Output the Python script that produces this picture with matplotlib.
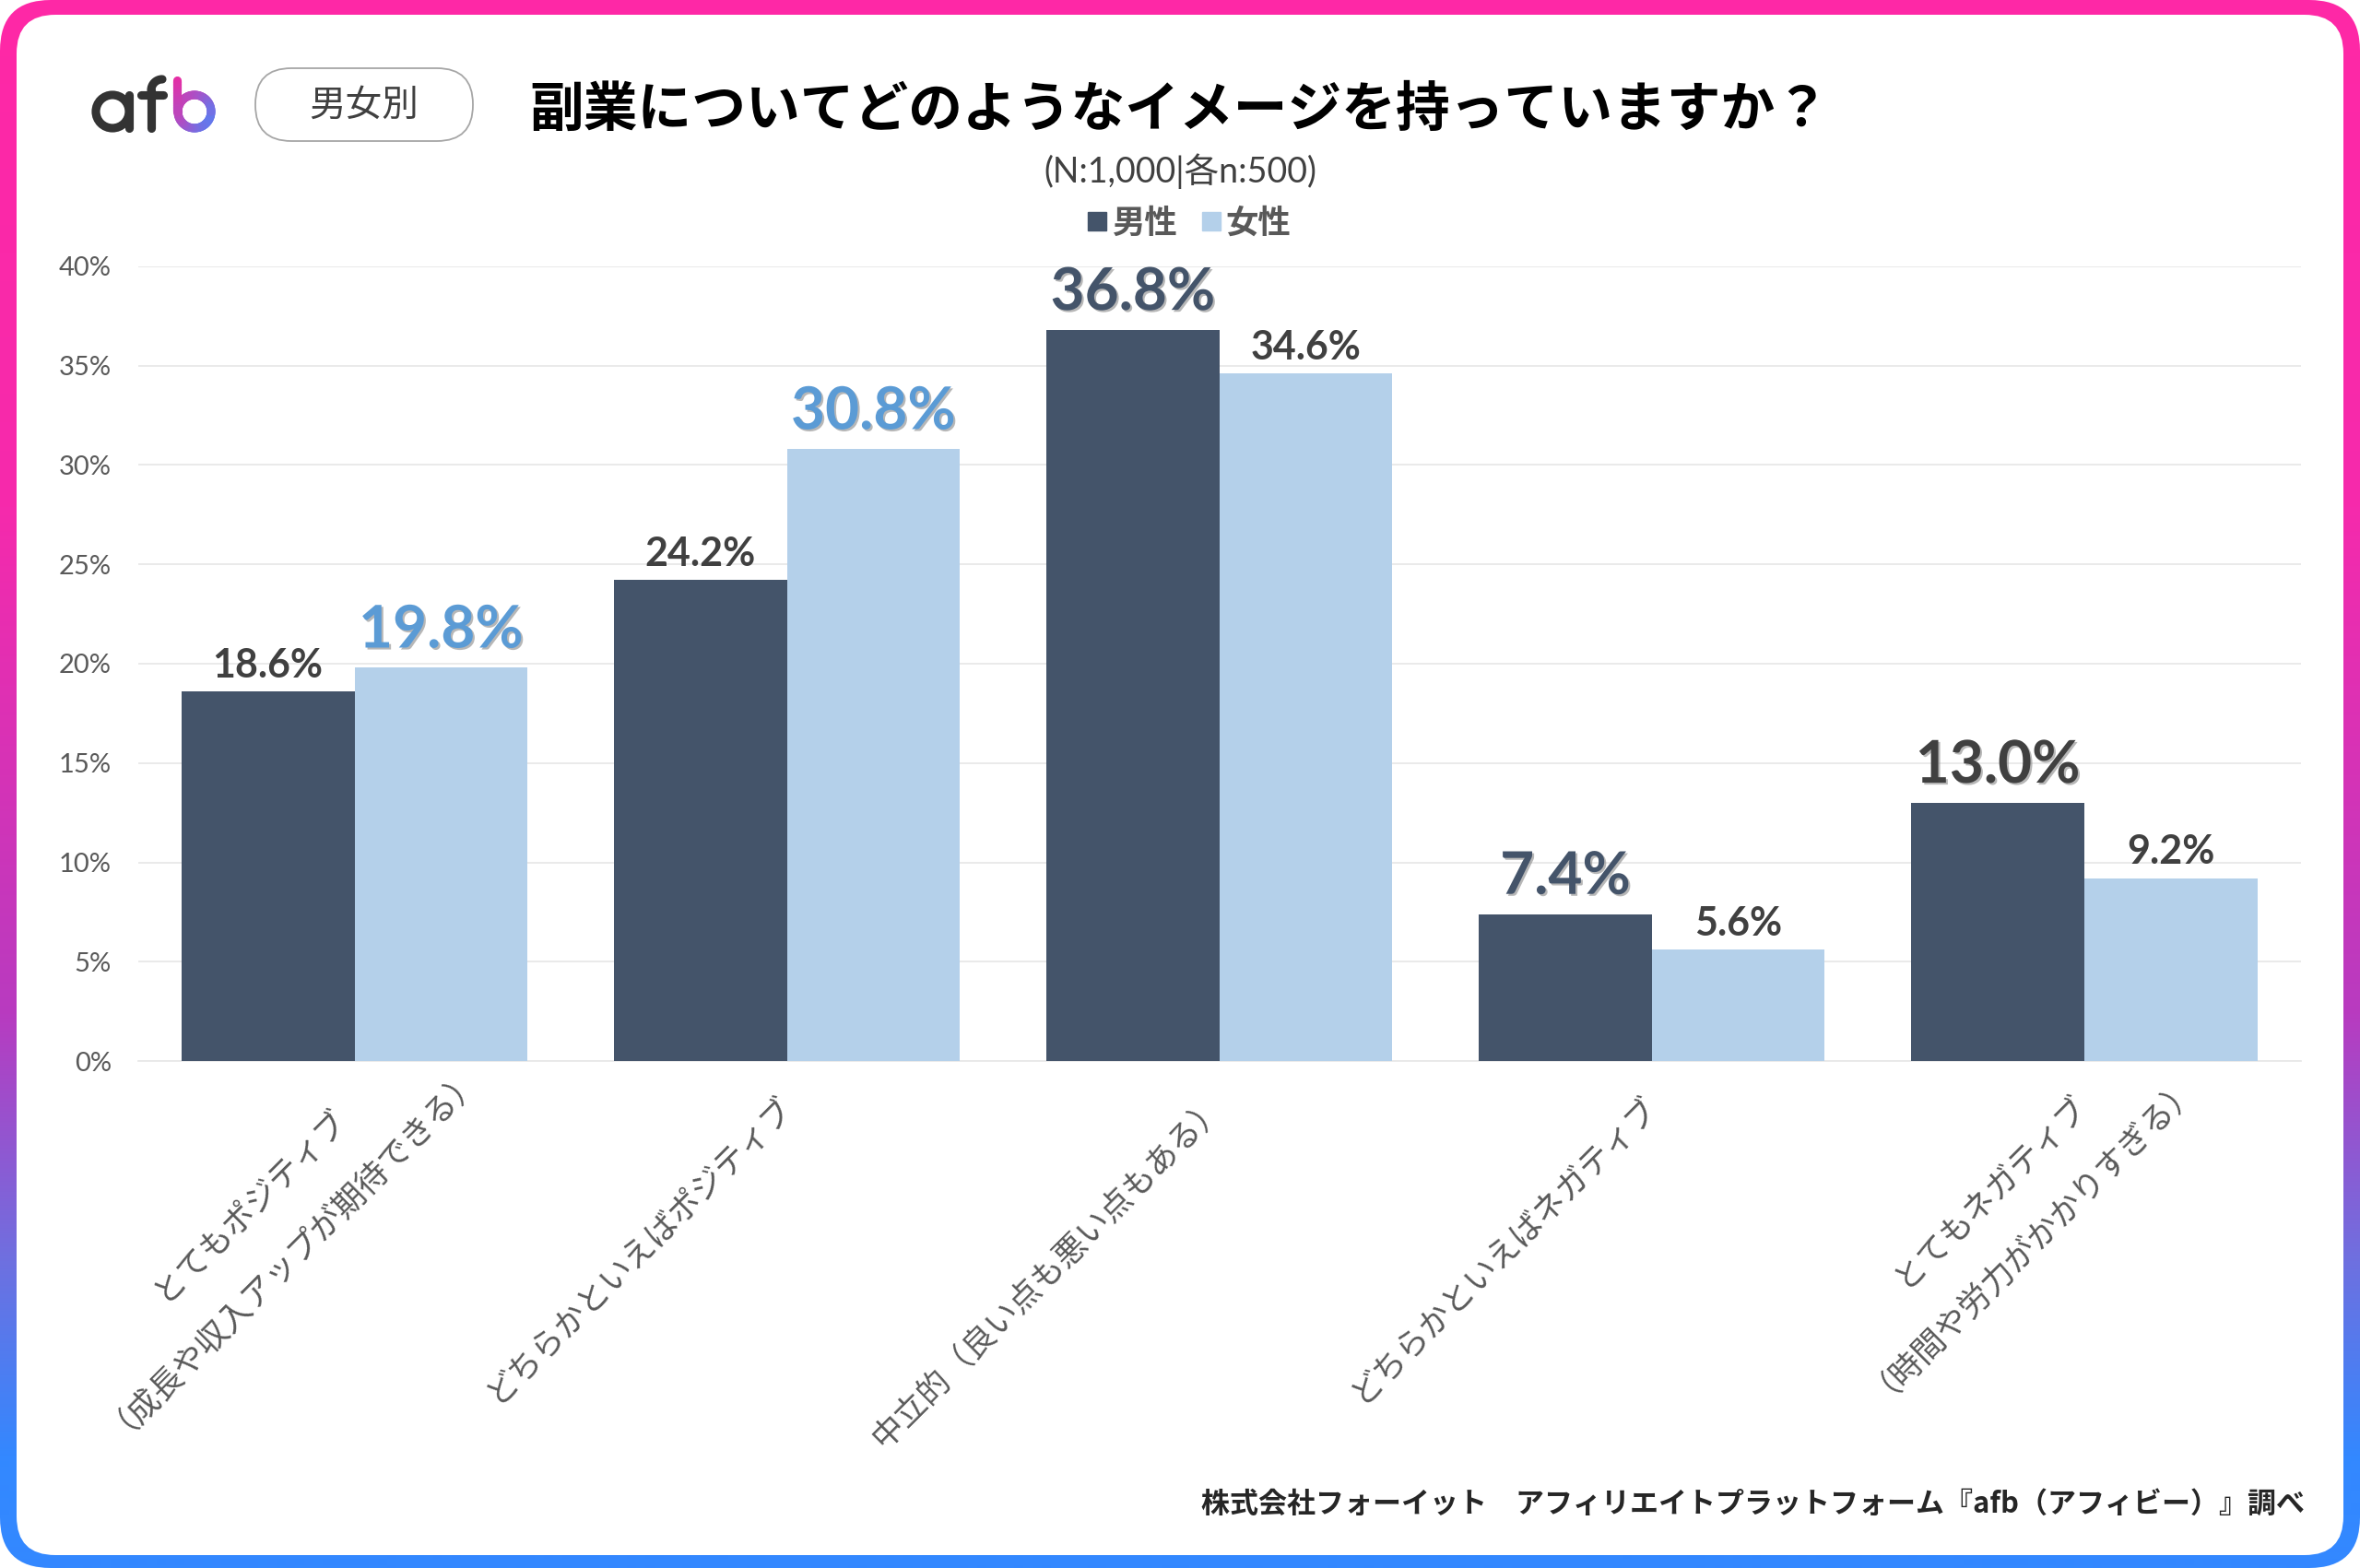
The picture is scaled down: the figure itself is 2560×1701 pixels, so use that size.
import numpy as np
import matplotlib
matplotlib.use('Agg')
import matplotlib.pyplot as plt
from matplotlib.patches import FancyBboxPatch, Circle
from matplotlib.collections import LineCollection
from matplotlib.colors import LinearSegmentedColormap, to_rgb
from matplotlib.lines import Line2D
from matplotlib.transforms import ScaledTranslation
import matplotlib.patheffects as pe

categories = ['とてもポジティブ\n（成長や収入アップが期待できる）', 'どちらかといえばポジティブ',
              '中立的（良い点も悪い点もある）', 'どちらかといえばネガティブ',
              'とてもネガティブ\n（時間や労力がかかりすぎる）']
male = [18.6, 24.2, 36.8, 7.4, 13.0]
female = [19.8, 30.8, 34.6, 5.6, 9.2]
male_big = [False, False, True, True, True]
female_big = [True, True, False, False, False]
yticks = [0, 5, 10, 15, 20, 25, 30, 35, 40]
title = '副業についてどのようなイメージを持っていますか？'
subtitle = '(N:1,000|各n:500)'
tag = '男女別'
source = '株式会社フォーイット　アフィリエイトプラットフォーム『afb（アフィビー）』調べ'

W, H = 2560, 1701
NAVY, LIGHT, BLUE, DARK = '#44546A', '#B4D0EA', '#5B9BD5', '#404040'
LAT = ['Lato', 'Noto Sans CJK JP']
CJK = ['Noto Sans CJK JP', 'DejaVu Sans']

fig = plt.figure(figsize=(25.6, 17.01), dpi=100, facecolor='white')

# frame layer in pixel coordinates
bg = fig.add_axes([0, 0, 1, 1], zorder=0)
bg.set_xlim(0, W); bg.set_ylim(H, 0); bg.axis('off')
ys = np.array([0, 550, 1100, 1368, 1580, 1701])
cols = np.array([to_rgb(c) for c in ['#FF28A6', '#F62AAC', '#B83BC0', '#6E70E0', '#3388FF', '#3388FF']])
grad = np.stack([np.interp(np.arange(H), ys, cols[:, i]) for i in range(3)], axis=1)[:, None, :]
im = bg.imshow(grad, extent=[0, W, H, 0], aspect='auto', zorder=1)
outer = FancyBboxPatch((0, 0), W, H, boxstyle='round,pad=0,rounding_size=55', transform=bg.transData,
                       fc='none', ec='none')
bg.add_patch(outer)
im.set_clip_path(outer)
bg.set_xlim(0, W); bg.set_ylim(H, 0)
bg.add_patch(FancyBboxPatch((18, 16), W - 36, 1687 - 16, boxstyle='round,pad=0,rounding_size=42',
                            fc='white', ec='none', zorder=2))

# logo
lw = 6.6
def ring(cx, cy, r, color):
    bg.add_patch(Circle((cx, cy), r, fc='none', ec=color, lw=lw, zorder=3))
ring(122, 121, 18, '#333333')
bg.plot([140, 140], [103, 139], color='#333333', lw=lw, solid_capstyle='round', zorder=3)
bg.plot([164, 164], [139, 98], color='#333333', lw=lw, solid_capstyle='round', zorder=3)
th = np.linspace(np.pi, 1.5 * np.pi, 20)
bg.plot(176 + 12 * np.cos(th), 98 + 12 * np.sin(th), color='#333333', lw=lw, solid_capstyle='round', zorder=3)
bg.plot([153, 177], [103, 103], color='#333333', lw=lw, solid_capstyle='round', zorder=3)
cmap = LinearSegmentedColormap.from_list('g', ['#F0289F', '#A852C8', '#3F8CFF'])
t = np.linspace(0, 2 * np.pi, 80)
bx, by = 211 + 18 * np.cos(t), 121 + 18 * np.sin(t)
sx, sy = np.full(20, 192.0), np.linspace(87, 121, 20)
for x, y in [(bx, by), (sx, sy)]:
    pts = np.column_stack([x, y]).reshape(-1, 1, 2)
    segs = np.concatenate([pts[:-1], pts[1:]], axis=1)
    c = ((x[:-1] - 188) / 45 + (y[:-1] - 83) / 60) / 2
    bg.add_collection(LineCollection(segs, colors=cmap(c), linewidths=lw, capstyle='round', zorder=3))

# tag pill
bg.add_patch(FancyBboxPatch((277, 74), 236, 79, boxstyle='round,pad=0,rounding_size=39',
                            fc='white', ec='#A6A6A6', lw=1.3, zorder=3))
bg.text(395, 115, tag, family=CJK, fontsize=28.5, color=DARK, ha='center', va='center', zorder=4)
bg.text(1279, 120, title, family=CJK, fontsize=42.3, fontweight='bold', color='black', ha='center', va='center', zorder=4)
bg.text(1280, 186, subtitle, family=LAT, fontsize=27, color=DARK, ha='center', va='center', zorder=4)
bg.text(2500, 1632, source, family=CJK, fontsize=22.3, fontweight='bold', color='#262626', ha='right', va='center', zorder=4)

# chart
ax = fig.add_axes([150 / W, 1 - 1151 / H, (2495.5 - 150) / W, (1151 - 289) / H], zorder=5)
ax.patch.set_alpha(0)
x = np.arange(len(categories))
bw = 0.4
b1 = ax.bar(x - bw / 2, male, bw, color=NAVY, label='男性', zorder=3)
b2 = ax.bar(x + bw / 2, female, bw, color=LIGHT, label='女性', zorder=3)
ax.set_xlim(-0.5, len(categories) - 0.5)
ax.set_ylim(0, 40)
ax.set_yticks(yticks)
ax.set_yticklabels([f'{v}%' for v in yticks], family=LAT, fontsize=21, color='#595959')
ax.yaxis.grid(True, color='#E8E8E8', lw=1.3, zorder=0)
ax.set_axisbelow(True)
ax.tick_params(axis='both', length=0)
ax.tick_params(axis='y', pad=21)
for s in ['top', 'right', 'left']:
    ax.spines[s].set_visible(False)
ax.spines['bottom'].set_color('#E8E8E8')
ax.spines['bottom'].set_linewidth(1.3)

ax.set_xticks(x)
ax.set_xticklabels(categories, family=CJK, fontsize=25.2, color='#595959', rotation=45,
                   ha='right', va='top', rotation_mode='anchor', linespacing=1.8, multialignment='center')
ax.tick_params(axis='x', pad=22)
label_shift = [(0.72, 0.85), (-0.12, 0.0), (-0.12, 0.0), (-0.12, 0.0), (0.58, 0.76)]
for lab, (dx, dy) in zip(ax.get_xticklabels(), label_shift):
    lab.set_transform(lab.get_transform() + ScaledTranslation(dx, dy, fig.dpi_scale_trans))

def labels(bars, vals, bigs, big_cols):
    for r, v, big, col in zip(bars, vals, bigs, big_cols):
        xc = r.get_x() + r.get_width() / 2
        if big:
            ax.annotate(f'{v:.1f}%', (xc, v), xytext=(0, 8.5), textcoords='offset points', ha='center', va='bottom',
                        family=LAT, fontsize=46, fontweight='bold', color=col, zorder=6,
                        path_effects=[pe.SimplePatchShadow(offset=(1.5, -1.5), shadow_rgbFace='#888888', alpha=0.6), pe.Normal()])
        else:
            ax.annotate(f'{v:.1f}%', (xc, v), xytext=(0, 6), textcoords='offset points', ha='center', va='bottom',
                        family=LAT, fontsize=31, fontweight='bold', color=DARK, zorder=6)
labels(b1, male, male_big, [DARK, DARK, NAVY, NAVY, DARK])
labels(b2, female, female_big, [BLUE, BLUE, DARK, DARK, DARK])

handles = [Line2D([], [], marker='s', ls='', ms=14, color=NAVY), Line2D([], [], marker='s', ls='', ms=14, color=LIGHT)]
fig.legend(handles, ['男性', '女性'], loc='center', bbox_to_anchor=(1289 / W, 1 - 242 / H), ncol=2, frameon=False,
           prop={'family': CJK, 'size': 25.5, 'weight': 'bold'}, labelcolor='#595959', handlelength=0.7, handletextpad=0.1, columnspacing=0.7)

fig.savefig('out.png', dpi=100)
